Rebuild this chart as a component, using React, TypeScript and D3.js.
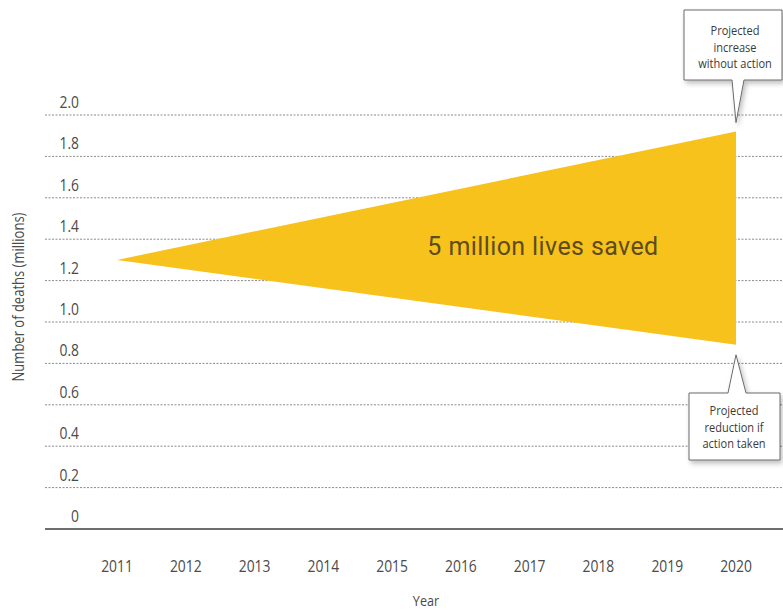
import React from "react";
import * as d3 from "d3";

// years on the x axis
const years = [2011, 2012, 2013, 2014, 2015, 2016, 2017, 2018, 2019, 2020];
// y axis ticks (millions)
const yTicks = [0, 0.2, 0.4, 0.6, 0.8, 1.0, 1.2, 1.4, 1.6, 1.8, 2.0];
// projected deaths without action
const upperYears = [2011, 2020];
const upperValues = [1.3, 1.92];
// projected deaths if action taken
const lowerYears = [2011, 2020];
const lowerValues = [1.3, 0.89];

const areaLabel = "5 million lives saved";
const upperNote = ["Projected", "increase", "without action"];
const lowerNote = ["Projected", "reduction if", "action taken"];

const width = 783;
const height = 610;
const font = "'Open Sans', 'DejaVu Sans', sans-serif";

// condensed text: squeeze a normal face horizontally
const CText: React.FC<{
  x: number;
  y: number;
  size: number;
  anchor?: string;
  fill?: string;
  rotate?: boolean;
  sx?: number;
  children: React.ReactNode;
}> = ({ x, y, size, anchor = "middle", fill = "#4a4a4a", rotate, sx = 0.84, children }) => (
  <text
    transform={`translate(${x},${y})${rotate ? " rotate(-90)" : ""} scale(${sx},1)`}
    textAnchor={anchor}
    fontFamily={font}
    fontSize={size}
    fill={fill}
  >
    {children}
  </text>
);

const App: React.FC = () => {
  const x = d3.scaleLinear().domain([2011, 2020]).range([117, 736]);
  const y = d3.scaleLinear().domain([0, 2]).range([529, 115]);

  const upper = upperYears.map((yr, i) => ({ year: yr, value: upperValues[i] }));
  const lower = lowerYears.map((yr, i) => ({ year: yr, value: lowerValues[i] }));

  const area = d3
    .area<{ year: number; upper: number; lower: number }>()
    .x((d) => x(d.year))
    .y0((d) => y(d.lower))
    .y1((d) => y(d.upper));
  const areaData = upper.map((d, i) => ({ year: d.year, upper: d.value, lower: lower[i].value }));

  const lastX = x(2020);
  const topTip = y(upperValues[upperValues.length - 1]) - 9;
  const botTip = y(lowerValues[lowerValues.length - 1]) + 10;

  return (
    <svg
      width={width}
      height={height}
      style={{ position: "absolute", left: 0, top: 0, display: "block", background: "#fff" }}
    >
      <defs>
        <filter id="shadow" x="-20%" y="-20%" width="150%" height="150%">
          <feDropShadow dx="2" dy="3" stdDeviation="2.5" floodColor="#000" floodOpacity="0.25" />
        </filter>
      </defs>

      {/* grid lines */}
      {yTicks.slice(1).map((t) => (
        <line
          key={t}
          x1={45}
          x2={width}
          y1={y(t)}
          y2={y(t)}
          stroke="#8a8a8a"
          strokeWidth={1}
          strokeDasharray="2,1.5"
        />
      ))}
      <line x1={45} x2={width} y1={y(0)} y2={y(0)} stroke="#6e6e6e" strokeWidth={2} />

      {/* tick labels */}
      {yTicks.map((t) => (
        <CText key={t} x={79} y={y(t) - 7} size={16.5} anchor="end">
          {t === 0 ? "0" : t.toFixed(1)}
        </CText>
      ))}
      {years.map((yr) => (
        <CText key={yr} x={x(yr)} y={572} size={16.5}>
          {yr}
        </CText>
      ))}

      <CText x={426} y={606} size={15}>
        Year
      </CText>
      <CText x={24} y={297} size={15.5} rotate>
        Number of deaths (millions)
      </CText>

      {/* wedge */}
      <path d={area(areaData) || ""} fill="#F8C21C" />
      <text
        x={543}
        y={255}
        textAnchor="middle"
        fontFamily="Roboto, 'DejaVu Sans', sans-serif"
        fontSize={25}
        letterSpacing={0.4}
        fill="#5e4d1a"
      >
        {areaLabel}
      </text>

      {/* upper callout */}
      <g filter="url(#shadow)">
        <path
          d={`M684,10 H782 V80 H${lastX + 8} L${lastX},${topTip} L${lastX - 4},80 H684 Z`}
          fill="#fff"
          stroke="#6a6a6a"
          strokeWidth={1}
        />
      </g>
      {upperNote.map((s, i) => (
        <CText key={s} x={735} y={35 + i * 16.5} size={12} sx={0.92} fill="#3a3a3a">
          {s}
        </CText>
      ))}

      {/* lower callout */}
      <g filter="url(#shadow)">
        <path
          d={`M689,393 H${lastX - 8} L${lastX},${botTip} L${lastX + 10},393 H780 V460 H689 Z`}
          fill="#fff"
          stroke="#6a6a6a"
          strokeWidth={1}
        />
      </g>
      {lowerNote.map((s, i) => (
        <CText key={s} x={734} y={415 + i * 16.5} size={12} sx={0.92} fill="#3a3a3a">
          {s}
        </CText>
      ))}
    </svg>
  );
};

export default App;
